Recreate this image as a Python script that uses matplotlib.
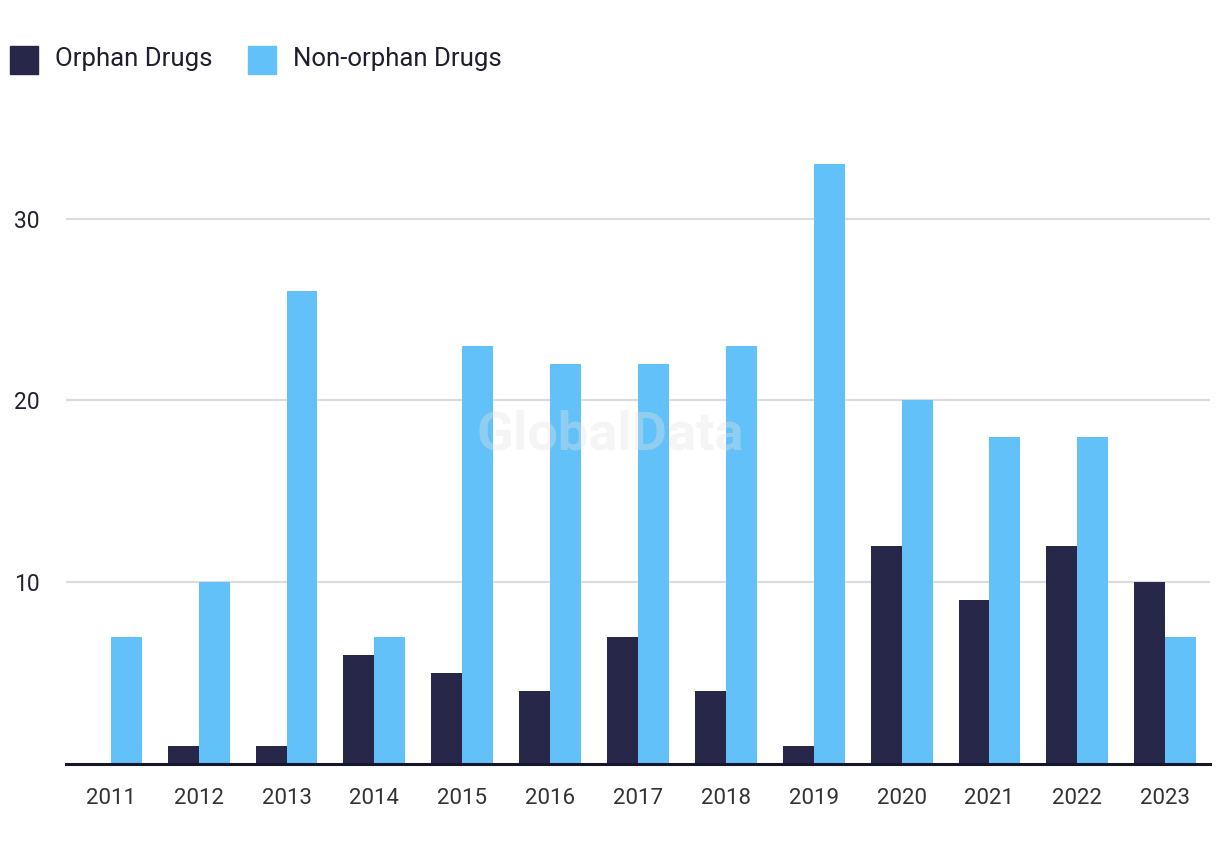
import numpy as np
import matplotlib
matplotlib.use('Agg')
import matplotlib.pyplot as plt
from matplotlib.patches import Rectangle

years = ['2011', '2012', '2013', '2014', '2015', '2016', '2017',
         '2018', '2019', '2020', '2021', '2022', '2023']
orphan = [0, 1, 1, 6, 5, 4, 7, 4, 1, 12, 9, 12, 10]
non_orphan = [7, 10, 26, 7, 23, 22, 22, 23, 33, 20, 18, 18, 7]
y_ticks = [10, 20, 30]

dark = '#272849'
light = '#62C1F9'

plt.rcParams['font.family'] = ['Roboto', 'DejaVu Sans']

fig = plt.figure(figsize=(12.2, 8.6), dpi=100)
ax = fig.add_axes([66 / 1220, 96 / 860, 1144 / 1220, 618 / 860])

x = np.arange(len(years))
w = 0.352
ax.bar(x - w / 2, orphan, width=w, color=dark, zorder=3)
ax.bar(x + w / 2, non_orphan, width=w, color=light, zorder=3)

ax.set_xlim(-0.51, len(years) - 0.49)
ax.set_ylim(0, 34)
ax.set_xticks(x)
ax.set_xticklabels(years)
ax.set_yticks(y_ticks)
ax.grid(axis='y', color='#dcdcdc', linewidth=1.6, zorder=0)
ax.tick_params(axis='x', length=0, pad=17, labelsize=16, labelcolor='#333333')
ax.tick_params(axis='y', length=0, pad=19, labelsize=16.5, labelcolor='#222233')

for edge in ['top', 'right', 'left']:
    ax.spines[edge].set_visible(False)
ax.spines['bottom'].set_color('#16162a')
ax.spines['bottom'].set_linewidth(2.2)
ax.spines['bottom'].set_zorder(4)

# watermark
ax.text(0.4755, 0.533, 'GlobalData', transform=ax.transAxes, ha='center', va='center',
        fontsize=39, fontweight='bold', color='#e4e4e4', alpha=0.35, zorder=5)

# legend drawn by hand at the top left
for x0, label, c in [(10, 'Orphan Drugs', dark), (248, 'Non-orphan Drugs', light)]:
    fig.patches.append(Rectangle((x0 / 1220, (860 - 74) / 860), 28 / 1220, 28 / 860,
                                 transform=fig.transFigure, color=c))
    fig.text((x0 + 45) / 1220, (860 - 59) / 860, label, fontsize=18.5,
             color='#1e1e2e', va='center', ha='left')

fig.savefig('out.png', dpi=100)
